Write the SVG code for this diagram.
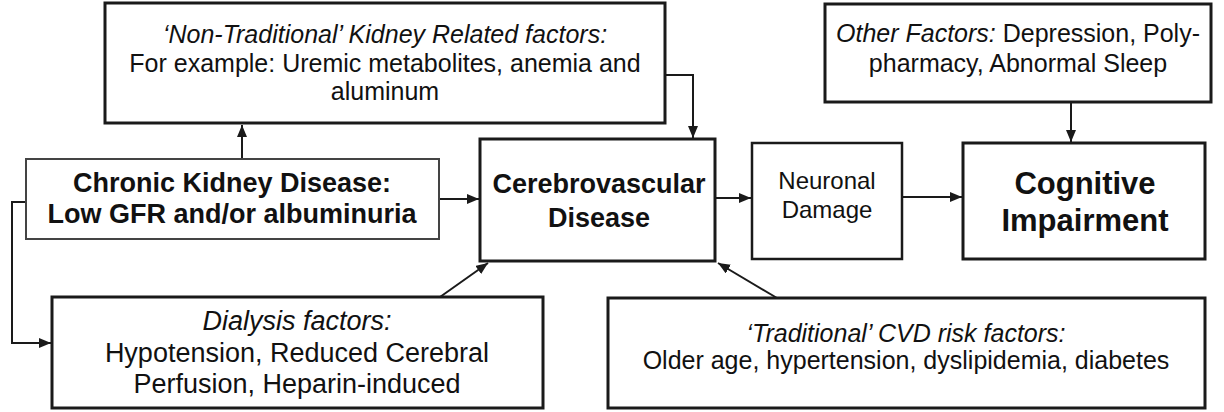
<svg xmlns="http://www.w3.org/2000/svg" width="1224" height="412" viewBox="0 0 1224 412">
<style>
.box{fill:#fff;stroke:#1a1a1a;stroke-width:3}
.thin{fill:#fff;stroke:#444;stroke-width:2}
.t{font-family:"Liberation Sans",Arial,sans-serif;fill:#111;text-anchor:middle}
.r25{font-size:25px}
.r27{font-size:27px}
.r24{font-size:24px}
.b27{font-size:27px;font-weight:bold}
.b31{font-size:31px;font-weight:bold}
.i{font-style:italic}
.c{fill:none;stroke:#1a1a1a;stroke-width:2;marker-end:url(#ah)}
</style>
<defs>
<marker id="ah" markerUnits="userSpaceOnUse" markerWidth="13" markerHeight="11" refX="12" refY="5" orient="auto">
<path d="M0,0 L12,5 L0,10 z" fill="#1a1a1a"/>
</marker>
</defs>
<rect width="1224" height="412" fill="#fff"/>
<g id="connectors">
<path class="c" d="M242,159 L242,125"/>
<path class="c" d="M665,75 L693,75 L693,138"/>
<path class="c" d="M439,199 L479,199"/>
<path class="c" d="M715,198 L751,198"/>
<path class="c" d="M902,197 L962,197"/>
<path class="c" d="M1071,102 L1071,142"/>
<path class="c" d="M440,297 L488,263"/>
<path class="c" d="M777,298 L718,263"/>
<path class="c" d="M26,202 L12,202 L12,343 L51,343"/>
</g>
<g id="nontrad">
<rect class="box" x="105" y="3" width="560" height="120"/>
<text class="t r25" x="385" y="43"><tspan class="i">‘Non-Traditional’ Kidney Related factors:</tspan></text>
<text class="t r25" x="385" y="72">For example: Uremic metabolites, anemia and</text>
<text class="t r25" x="385" y="100">aluminum</text>
</g>
<g id="other">
<rect class="box" x="825" y="4" width="386" height="98"/>
<text class="t r25" x="1018" y="42"><tspan class="i">Other Factors:</tspan> Depression, Poly-</text>
<text class="t r25" x="1018" y="72">pharmacy, Abnormal Sleep</text>
</g>
<g id="ckd">
<rect class="thin" x="26" y="159" width="413" height="80"/>
<text class="t b27" x="232" y="192">Chronic Kidney Disease:</text>
<text class="t b27" x="232" y="223">Low GFR and/or albuminuria</text>
</g>
<g id="cerebro">
<rect class="box" x="480" y="139" width="235" height="122"/>
<text class="t b27" x="599" y="193">Cerebrovascular</text>
<text class="t b27" x="599" y="227">Disease</text>
</g>
<g id="neuronal">
<rect class="box" x="752" y="143" width="150" height="116" style="stroke-width:2.5"/>
<text class="t r24" x="827" y="189">Neuronal</text>
<text class="t r24" x="827" y="218">Damage</text>
</g>
<g id="cognitive">
<rect class="box" x="963" y="143" width="242" height="116"/>
<text class="t b31" x="1085" y="194">Cognitive</text>
<text class="t b31" x="1085" y="231">Impairment</text>
</g>
<g id="dialysis">
<rect class="box" x="52" y="297" width="491" height="111"/>
<text class="t r27 i" x="297" y="330">Dialysis factors:</text>
<text class="t r27" x="297" y="362">Hypotension, Reduced Cerebral</text>
<text class="t r27" x="297" y="393">Perfusion, Heparin-induced</text>
</g>
<g id="traditional">
<rect class="box" x="608" y="298" width="597" height="110"/>
<text class="t r25 i" x="906" y="342">‘Traditional’ CVD risk factors:</text>
<text class="t r25" x="906" y="369">Older age, hypertension, dyslipidemia, diabetes</text>
</g>
</svg>
